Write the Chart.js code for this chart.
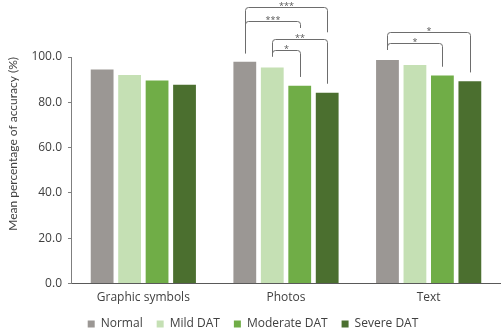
<!DOCTYPE html>
<html>
<head>
<meta charset="utf-8">
<script src="https://cdn.jsdelivr.net/npm/chart.js@4"></script>
<style>
  html, body { margin: 0; padding: 0; background: #fff; }
  #wrap { width: 503px; height: 331px; }
</style>
</head>
<body>
<div id="wrap"><canvas id="myChart" width="503" height="331"></canvas></div>
<script>
// categories and groups
var categories = ['Graphic symbols', 'Photos', 'Text'];
var groups = ['Normal', 'Mild DAT', 'Moderate DAT', 'Severe DAT'];

// mean accuracy (%) per group
var normalVals = [94.5, 97.9, 98.7];
var mildVals = [92.1, 95.4, 96.5];
var moderateVals = [89.6, 87.3, 91.8];
var severeVals = [87.8, 84.2, 89.3];

var yTicks = [0, 20, 40, 60, 80, 100];

// significant pairwise comparisons: category index, bar a, bar b, stars
var sigCat = [1, 1, 1, 1, 2, 2];
var sigFrom = [0, 0, 1, 1, 0, 0];
var sigTo = [3, 2, 3, 2, 3, 2];
var sigStars = ['***', '***', '**', '*', '*', '*'];

var colorList = ['#9b9794', '#c5e0b4', '#70ad47', '#4b6f2f'];

// bracket heights in axis units (top line, left leg end, right leg end)
var bracketLayout = [
    { top: 122.2, left: 101.6, right: 110.9 },
    { top: 115.8, left: 101.6, right: 112.8 },
    { top: 107.8, left: 100.2, right: 88.2 },
    { top: 103.1, left: 100.2, right: 91.2 },
    { top: 111.2, left: 103.1, right: 93.2 },
    { top: 106.1, left: 103.1, right: 95.7 }
];

var bracketPlugin = {
    id: 'sigBrackets',
    afterDatasetsDraw: function (chart) {
        var ctx = chart.ctx;
        var y = chart.scales.y;
        var r = 3;
        ctx.save();
        ctx.strokeStyle = '#6d6d6d';
        ctx.lineWidth = 1;
        ctx.fillStyle = '#595959';
        ctx.font = '9px "Open Sans"';
        ctx.textAlign = 'center';
        ctx.textBaseline = 'alphabetic';
        for (var i = 0; i < sigCat.length; i++) {
            var x1 = Math.round(chart.getDatasetMeta(sigFrom[i]).data[sigCat[i]].x) + 0.5;
            var x2 = Math.round(chart.getDatasetMeta(sigTo[i]).data[sigCat[i]].x) + 0.5;
            var lay = bracketLayout[i];
            var yt = Math.round(y.getPixelForValue(lay.top)) + 0.5;
            var yl = y.getPixelForValue(lay.left);
            var yr = y.getPixelForValue(lay.right);
            ctx.beginPath();
            ctx.moveTo(x1, yl);
            ctx.lineTo(x1, yt + r);
            ctx.quadraticCurveTo(x1, yt, x1 + r, yt);
            ctx.lineTo(x2 - r, yt);
            ctx.quadraticCurveTo(x2, yt, x2, yt + r);
            ctx.lineTo(x2, yr);
            ctx.stroke();
            ctx.fillText(sigStars[i], (x1 + x2) / 2, yt + 1);
        }
        ctx.restore();
    }
};

// pull the legend row up, closer to the axis labels
var legendShift = {
    id: 'legendShift',
    afterLayout: function (chart) {
        if (chart.legend) {
            chart.legend.top -= 8;
            chart.legend.bottom -= 8;
        }
    }
};

function makeDatasets() {
    var all = [normalVals, mildVals, moderateVals, severeVals];
    var datasets = [];
    for (var i = 0; i < groups.length; i++) {
        datasets.push({
            label: groups[i],
            data: all[i],
            backgroundColor: colorList[i],
            borderWidth: 0,
            barPercentage: 0.83,
            categoryPercentage: 0.77
        });
    }
    return datasets;
}

var ctx = document.getElementById('myChart');
var myChart = new Chart(ctx, {
    type: 'bar',
    data: {
        labels: categories,
        datasets: makeDatasets()
    },
    plugins: [bracketPlugin, legendShift],
    options: {
        responsive: false,
        animation: false,
        layout: {
            padding: { top: 57, right: 3, left: 6, bottom: -17 }
        },
        plugins: {
            tooltip: { enabled: false },
            legend: {
                position: 'bottom',
                labels: {
                    boxWidth: 7,
                    boxHeight: 7,
                    padding: 14,
                    color: '#404040',
                    font: { family: 'Open Sans', size: 12 }
                }
            }
        },
        scales: {
            x: {
                grid: { display: false, drawTicks: false },
                border: { color: '#595959', width: 1 },
                ticks: {
                    color: '#404040',
                    padding: 7,
                    font: { family: 'Open Sans', size: 12 }
                }
            },
            y: {
                min: 0,
                max: 100,
                afterBuildTicks: function (axis) {
                    axis.ticks = yTicks.map(function (v) { return { value: v }; });
                },
                grid: {
                    drawOnChartArea: false,
                    drawTicks: true,
                    tickLength: 4,
                    color: '#7f7f7f'
                },
                border: { color: '#7f7f7f', width: 1 },
                ticks: {
                    color: '#404040',
                    padding: 6,
                    font: { family: 'Open Sans', size: 12 },
                    callback: function (v) { return Number(v).toFixed(1); }
                },
                title: {
                    display: true,
                    text: 'Mean percentage of accuracy (%)',
                    align: 'end',
                    color: '#404040',
                    padding: { top: 0, bottom: 5 },
                    font: { family: 'Lato', size: 12 }
                }
            }
        }
    }
});
</script>
</body>
</html>
